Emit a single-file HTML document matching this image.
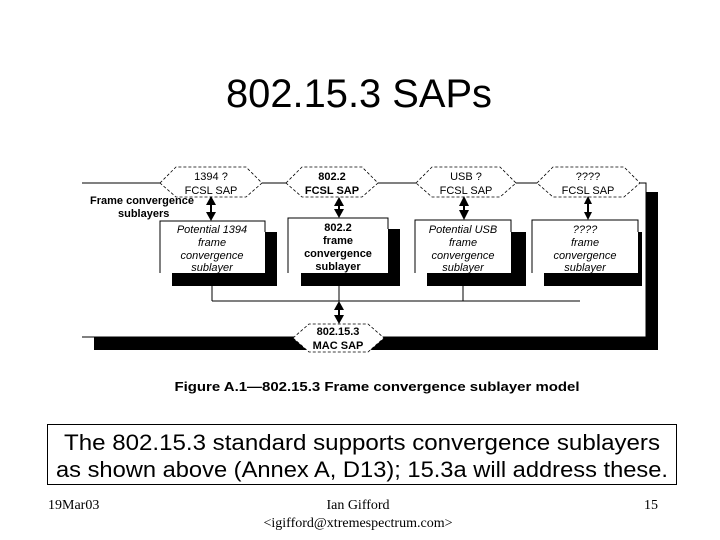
<!DOCTYPE html>
<html><head><meta charset="utf-8"><style>
html,body{margin:0;padding:0;background:#fff;}
svg{display:block;}
</style></head><body>
<svg width="720" height="540" viewBox="0 0 720 540" xmlns="http://www.w3.org/2000/svg" font-family="Liberation Sans, sans-serif">
<rect width="720" height="540" fill="#fff"/>
<text x="359" y="107" font-size="40" text-anchor="middle" textLength="266" lengthAdjust="spacingAndGlyphs">802.15.3 SAPs</text>

<!-- frame -->
<rect x="646" y="192" width="12" height="158" fill="#000"/>
<rect x="94" y="337" width="564" height="13" fill="#000"/>
<polyline points="82,183 646,183 646,337 82,337" fill="none" stroke="#000" stroke-width="1"/>

<!-- shadows -->
<rect x="172" y="232" width="105" height="54" fill="#000"/>
<rect x="301" y="229" width="99" height="57" fill="#000"/>
<rect x="427" y="232" width="99" height="54" fill="#000"/>
<rect x="544" y="232" width="98" height="54" fill="#000"/>
<!-- boxes -->
<rect x="160" y="221" width="105" height="52" fill="#fff"/>
<polyline points="160,273 160,221 265,221 265,232" fill="none" stroke="#000"/>
<rect x="288" y="218" width="100" height="55" fill="#fff"/>
<polyline points="288,273 288,218 388,218 388,229" fill="none" stroke="#000"/>
<rect x="415" y="220" width="96" height="53" fill="#fff"/>
<polyline points="415,273 415,220 511,220 511,232" fill="none" stroke="#000"/>
<rect x="532" y="220" width="106" height="53" fill="#fff"/>
<polyline points="532,273 532,220 638,220 638,232" fill="none" stroke="#000"/>

<!-- bus -->
<line x1="212" y1="286" x2="212" y2="301" stroke="#000"/>
<line x1="339" y1="286" x2="339" y2="301" stroke="#000"/>
<line x1="463" y1="286" x2="463" y2="301" stroke="#000"/>
<line x1="212" y1="301" x2="580" y2="301" stroke="#000"/>

<!-- diamonds -->
<g fill="#fff" stroke="#000" stroke-width="0.8" stroke-dasharray="3,2">
<polygon points="160,183 176,167 246,167 262,183 246,197 176,197"/>
<polygon points="286,183 302,167 362,167 378,183 362,197 302,197"/>
<polygon points="416,183 432,167 500,167 516,183 500,197 432,197"/>
<polygon points="537,183 553,167 624,167 640,183 624,197 553,197"/>
<polygon points="293,338 309,324 368,324 384,338 368,352 309,352"/>
</g>
<g font-size="11" text-anchor="middle">
<text x="211" y="180">1394 ?</text><text x="211" y="194">FCSL SAP</text>
<text x="332" y="180" font-weight="bold">802.2</text><text x="332" y="194" font-weight="bold">FCSL SAP</text>
<text x="466" y="180">USB ?</text><text x="466" y="194">FCSL SAP</text>
<text x="588" y="180">????</text><text x="588" y="194">FCSL SAP</text>
<text x="338" y="335" font-weight="bold">802.15.3</text><text x="338" y="349" font-weight="bold">MAC SAP</text>
</g>

<!-- arrows -->
<g stroke="#000" stroke-width="2">
<line x1="211" y1="204" x2="211" y2="214"/>
<line x1="339" y1="204" x2="339" y2="211"/>
<line x1="464" y1="204" x2="464" y2="212"/>
<line x1="588" y1="202" x2="588" y2="213"/>
<line x1="339" y1="308" x2="339" y2="318"/>
</g>
<g fill="#000">
<polygon points="211,196 206,205 216,205"/><polygon points="211,221 206,212 216,212"/>
<polygon points="339,197 334,206 344,206"/><polygon points="339,218 334,209 344,209"/>
<polygon points="464,196 459,206 469,206"/><polygon points="464,220 459,210 469,210"/>
<polygon points="588,196 584,204 592,204"/><polygon points="588,220 584,212 592,212"/>
<polygon points="339,301 334,310 344,310"/><polygon points="339,324 334,315 344,315"/>
</g>

<text x="90" y="204" font-size="11" font-weight="bold">Frame convergence</text>
<text x="118" y="217" font-size="11" font-weight="bold">sublayers</text>

<g font-size="11" text-anchor="middle">
<g font-style="italic"><text x="212" y="233">Potential 1394</text><text x="212" y="246">frame</text><text x="212" y="259">convergence</text><text x="212" y="271">sublayer</text></g>
<g font-weight="bold"><text x="338" y="231">802.2</text><text x="338" y="244">frame</text><text x="338" y="257">convergence</text><text x="338" y="270">sublayer</text></g>
<g font-style="italic"><text x="463" y="233">Potential USB</text><text x="463" y="246">frame</text><text x="463" y="259">convergence</text><text x="463" y="271">sublayer</text></g>
<g font-style="italic"><text x="585" y="233">????</text><text x="585" y="246">frame</text><text x="585" y="259">convergence</text><text x="585" y="271">sublayer</text></g>
</g>

<text x="377" y="391" font-size="13" font-weight="bold" text-anchor="middle" textLength="405" lengthAdjust="spacingAndGlyphs">Figure A.1—802.15.3 Frame convergence sublayer model</text>

<rect x="47.5" y="424.5" width="629" height="60" fill="none" stroke="#000"/>
<text x="362" y="450" font-size="22" text-anchor="middle" textLength="596" lengthAdjust="spacingAndGlyphs">The 802.15.3 standard supports convergence sublayers</text>
<text x="362" y="477" font-size="22" text-anchor="middle" textLength="612" lengthAdjust="spacingAndGlyphs">as shown above (Annex A, D13); 15.3a will address these.</text>

<g font-family="Liberation Serif, serif" font-size="14">
<text x="48" y="509">19Mar03</text>
<text x="358" y="509" text-anchor="middle">Ian Gifford</text>
<text x="358" y="527" text-anchor="middle">&lt;igifford@xtremespectrum.com&gt;</text>
<text x="658" y="509" text-anchor="end">15</text>
</g>
</svg>
</body></html>
